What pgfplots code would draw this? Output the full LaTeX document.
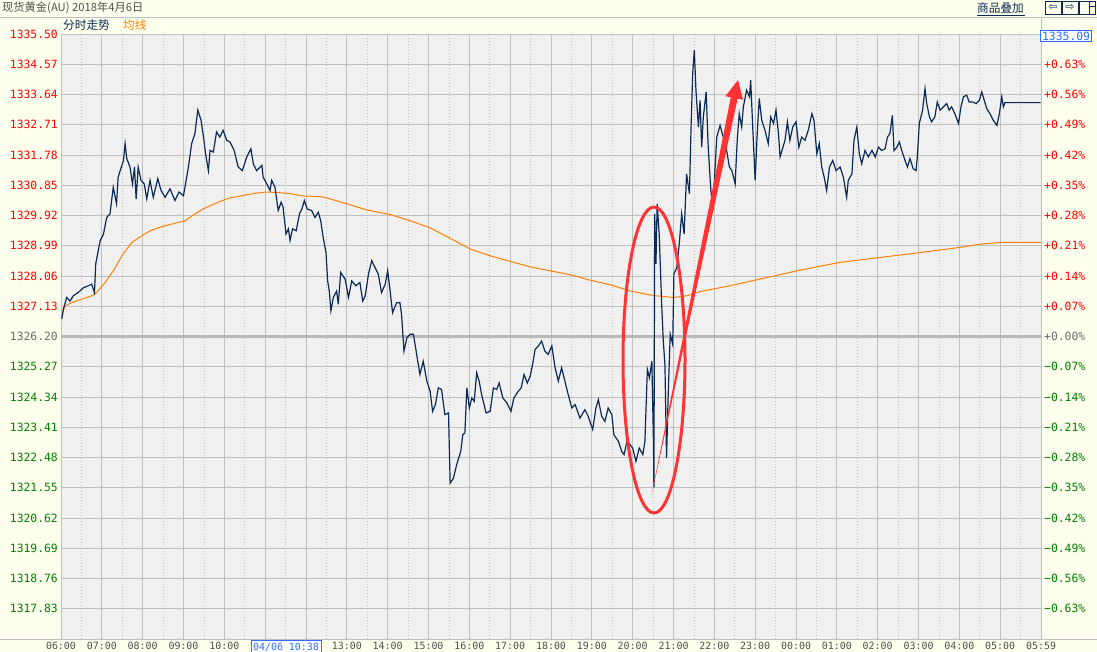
\documentclass[border=0pt]{standalone}
\usepackage{pgfplots}
\pgfplotsset{compat=1.18}
\usepackage{fontspec}
\setmainfont{DejaVu Sans}
\newfontfamily\mono{DejaVu Sans Mono}
\newfontfamily\cjk{Noto Sans CJK SC}
\definecolor{ivory}{HTML}{FFFFEE}
\definecolor{plotbg}{HTML}{F0F0F0}
\definecolor{gridc}{HTML}{C0C0C0}
\definecolor{centerc}{HTML}{B8B8B8}
\definecolor{navy}{HTML}{0B2A55}
\definecolor{avgc}{HTML}{FF8000}
\definecolor{upred}{HTML}{FF0000}
\definecolor{downgreen}{HTML}{008000}
\definecolor{flatgray}{HTML}{6E6E6E}
\definecolor{xlab}{HTML}{505050}
\definecolor{annot}{HTML}{FF3333}
\definecolor{cursorblue}{HTML}{2F6FFF}
\newcommand\R[1]{\textcolor{upred}{#1}}
\newcommand\G[1]{\textcolor{downgreen}{#1}}
\newcommand\F[1]{\textcolor{flatgray}{#1}}
\begin{document}
\begin{tikzpicture}
\clip (0,0) rectangle (1097bp,652bp);
\fill[ivory] (0,0) rectangle (1097bp,652bp);
\draw[gridc, line width=0.8bp] (0,635bp) -- (1097bp,635bp);
\draw[gridc, line width=0.8bp] (0,13bp) -- (1097bp,13bp);
\draw[gridc, line width=0.8bp] (1041bp,13bp) -- (1041bp,635bp);

\begin{axis}[
  at={(61bp,13bp)}, anchor=south west,
  scale only axis, width=980bp, height=605bp,
  xmin=0, xmax=24, ymin=1316.90, ymax=1335.50,
  axis background/.style={fill=plotbg},
  axis line style={draw=gridc, line width=0.8bp},
  tick style={draw=none},
  xtick={0,1,...,24}, minor x tick num=1,
  xticklabels={06:00,07:00,08:00,09:00,10:00,{},{},13:00,14:00,15:00,16:00,17:00,18:00,19:00,20:00,21:00,22:00,23:00,00:00,01:00,02:00,03:00,04:00,05:00,05:59},
  ytick={1316.90,1317.83,1318.76,1319.69,1320.62,1321.55,1322.48,1323.41,1324.34,1325.27,1326.20,1327.13,1328.06,1328.99,1329.92,1330.85,1331.78,1332.71,1333.64,1334.57,1335.50},
  yticklabels={{},\G{1317.83},\G{1318.76},\G{1319.69},\G{1320.62},\G{1321.55},\G{1322.48},\G{1323.41},\G{1324.34},\G{1325.27},\F{1326.20},\R{1327.13},\R{1328.06},\R{1328.99},\R{1329.92},\R{1330.85},\R{1331.78},\R{1332.71},\R{1333.64},\R{1334.57},\R{1335.50}},
  grid=both,
  major grid style={draw=gridc, line width=0.8bp},
  minor grid style={draw=gridc, line width=0.8bp, dash pattern=on 1bp off 2bp},
  extra y ticks={1326.20}, extra y tick labels={},
  extra y tick style={grid=major, major grid style={draw=centerc, line width=2.4bp}},
  xticklabel style={font=\mono\fontsize{10}{12}\selectfont, text=xlab, anchor=north, inner sep=0pt, yshift=-3bp},
  yticklabel style={font=\mono\fontsize{11.4}{12}\selectfont, anchor=east, inner sep=0pt, xshift=-3bp},
]
% average line (均线)
\addplot[avgc, line width=1bp] coordinates {
(0.02,1326.88) (0.10,1327.14) (0.26,1327.24) (0.51,1327.35) (0.75,1327.45) (0.87,1327.55)
(1.08,1327.86) (1.28,1328.22) (1.49,1328.68) (1.73,1329.09) (1.98,1329.30) (2.22,1329.47)
(2.47,1329.58) (2.79,1329.68) (3.04,1329.76) (3.28,1329.97) (3.53,1330.15) (3.85,1330.33)
(4.10,1330.45) (4.43,1330.53) (4.75,1330.60) (5.00,1330.64) (5.28,1330.63) (5.61,1330.59)
(5.93,1330.52) (6.34,1330.50) (6.51,1330.46) (7.00,1330.28) (7.49,1330.09) (8.06,1329.95)
(8.55,1329.76) (9.04,1329.54) (9.53,1329.22) (10.02,1328.89) (10.51,1328.68) (11.00,1328.51)
(11.49,1328.34) (11.98,1328.22) (12.47,1328.10) (12.96,1327.93) (13.45,1327.79) (13.94,1327.60)
(14.50,1327.46) (15.00,1327.40) (15.32,1327.45) (15.65,1327.58) (16.38,1327.76) (18.10,1328.24)
(19.08,1328.48) (20.06,1328.63) (21.04,1328.78) (22.02,1328.94) (22.51,1329.04) (23.00,1329.09)
(23.99,1329.09)
};
% price line (分时走势)
\addplot[navy, line width=1.2bp] coordinates {
(0.02,1326.74) (0.06,1327.05) (0.14,1327.40) (0.22,1327.29) (0.30,1327.45) (0.42,1327.55)
(0.55,1327.70) (0.67,1327.76) (0.75,1327.81) (0.82,1327.55) (0.85,1328.43) (0.96,1329.15)
(1.04,1329.35) (1.12,1329.86) (1.20,1329.97) (1.28,1330.79) (1.36,1330.28) (1.40,1331.10)
(1.45,1331.30) (1.53,1331.61) (1.57,1332.13) (1.61,1331.67) (1.69,1331.41) (1.75,1330.89)
(1.80,1331.41) (1.84,1330.43) (1.89,1331.41) (1.96,1331.00) (2.04,1330.89) (2.10,1330.43)
(2.18,1331.00) (2.26,1330.48) (2.37,1331.05) (2.45,1330.69) (2.55,1330.48) (2.67,1330.74)
(2.79,1330.38) (2.89,1330.64) (3.00,1330.53) (3.05,1330.89) (3.12,1331.41) (3.20,1332.13)
(3.28,1332.44) (3.35,1333.16) (3.43,1332.85) (3.49,1332.33) (3.54,1331.82) (3.61,1331.30)
(3.65,1331.92) (3.73,1331.87) (3.81,1332.49) (3.89,1332.33) (3.97,1332.54) (4.06,1332.23)
(4.14,1332.18) (4.24,1331.92) (4.34,1331.41) (4.44,1331.30) (4.55,1331.72) (4.65,1331.97)
(4.71,1331.51) (4.79,1331.30) (4.92,1331.46) (4.95,1331.10) (5.04,1330.89) (5.12,1330.69)
(5.16,1331.00) (5.24,1330.79) (5.32,1330.07) (5.39,1330.33) (5.44,1330.17) (5.51,1329.35)
(5.57,1329.51) (5.61,1329.15) (5.67,1329.51) (5.76,1329.45) (5.84,1329.97) (5.90,1330.12)
(5.96,1330.38) (6.03,1330.12) (6.14,1330.07) (6.22,1329.86) (6.30,1330.02) (6.36,1329.76)
(6.42,1329.25) (6.49,1328.78) (6.53,1327.91) (6.57,1327.60) (6.61,1326.99) (6.67,1327.40)
(6.75,1327.60) (6.79,1327.19) (6.85,1328.17) (6.96,1327.96) (7.04,1327.40) (7.12,1327.91)
(7.22,1327.76) (7.32,1327.86) (7.39,1327.29) (7.45,1327.45) (7.53,1328.12) (7.61,1328.53)
(7.69,1328.32) (7.77,1328.12) (7.85,1327.55) (7.94,1327.81) (8.00,1328.22) (8.06,1327.60)
(8.12,1326.93) (8.22,1327.24) (8.30,1327.24) (8.34,1326.88) (8.40,1325.75) (8.47,1326.16)
(8.55,1326.27) (8.63,1326.27) (8.71,1325.65) (8.79,1325.03) (8.87,1325.44) (8.96,1324.83)
(9.04,1324.52) (9.10,1323.90) (9.17,1324.11) (9.24,1324.62) (9.32,1324.57) (9.40,1323.80)
(9.49,1323.85) (9.53,1321.69) (9.61,1321.84) (9.69,1322.26) (9.79,1322.67) (9.84,1323.18)
(9.89,1323.23) (9.94,1324.62) (10.00,1324.00) (10.06,1324.31) (10.12,1324.21) (10.18,1325.08)
(10.24,1324.83) (10.30,1324.42) (10.41,1323.85) (10.51,1323.90) (10.59,1324.62) (10.67,1324.57)
(10.73,1324.77) (10.82,1324.31) (10.92,1324.16) (11.02,1323.90) (11.09,1324.31) (11.20,1324.52)
(11.27,1324.62) (11.34,1325.03) (11.42,1324.77) (11.49,1324.98) (11.55,1325.34) (11.61,1325.80)
(11.69,1325.91) (11.77,1326.06) (11.85,1325.75) (11.93,1325.65) (12.02,1325.91) (12.10,1325.24)
(12.18,1324.83) (12.26,1325.24) (12.34,1324.83) (12.42,1324.42) (12.51,1324.00) (12.59,1324.11)
(12.71,1323.69) (12.83,1323.95) (12.91,1323.75) (13.02,1323.34) (13.10,1324.00) (13.16,1324.26)
(13.24,1323.75) (13.32,1323.59) (13.40,1324.00) (13.49,1323.80) (13.54,1323.18) (13.65,1322.98)
(13.73,1322.67) (13.79,1322.57) (13.86,1322.98) (13.94,1322.87) (14.00,1322.77) (14.08,1322.36)
(14.16,1322.77) (14.25,1322.57) (14.30,1322.98) (14.36,1325.19) (14.41,1324.93) (14.47,1325.44)
(14.51,1322.87) (14.52,1321.56) (14.54,1329.97) (14.57,1328.43) (14.60,1330.28) (14.65,1329.35)
(14.71,1327.19) (14.75,1326.06) (14.79,1325.34) (14.83,1322.46) (14.87,1324.42) (14.92,1326.27)
(14.98,1325.96) (15.01,1328.12) (15.08,1328.32) (15.14,1329.04) (15.20,1329.97) (15.26,1329.35)
(15.32,1331.20) (15.39,1330.59) (15.43,1332.64) (15.47,1334.29) (15.51,1335.01) (15.55,1333.77)
(15.61,1332.64) (15.65,1333.46) (15.69,1332.02) (15.73,1332.95) (15.80,1333.72) (15.85,1332.02)
(15.91,1330.79) (15.96,1330.07) (16.02,1331.41) (16.06,1332.33) (16.14,1332.69) (16.24,1332.23)
(16.30,1331.92) (16.37,1331.41) (16.43,1331.30) (16.51,1330.89) (16.56,1332.23) (16.61,1333.05)
(16.67,1332.64) (16.71,1333.26) (16.79,1333.77) (16.86,1333.57) (16.89,1334.08) (16.94,1332.64)
(17.00,1331.00) (17.05,1332.44) (17.10,1333.52) (17.16,1332.85) (17.24,1332.54) (17.32,1332.13)
(17.38,1332.95) (17.45,1332.75) (17.51,1333.16) (17.57,1332.44) (17.61,1331.72) (17.68,1332.02)
(17.73,1332.23) (17.79,1332.80) (17.85,1332.23) (17.92,1332.64) (18.00,1332.80) (18.07,1332.02)
(18.14,1332.33) (18.22,1332.23) (18.30,1332.54) (18.39,1333.05) (18.44,1332.85) (18.51,1331.82)
(18.57,1332.13) (18.63,1331.41) (18.69,1331.10) (18.75,1330.69) (18.82,1331.41) (18.90,1331.61)
(18.98,1331.30) (19.08,1331.41) (19.16,1331.10) (19.24,1330.48) (19.28,1331.00) (19.37,1331.20)
(19.42,1332.23) (19.49,1332.64) (19.55,1331.82) (19.61,1331.51) (19.69,1331.92) (19.77,1331.72)
(19.86,1331.92) (19.94,1331.72) (20.02,1332.02) (20.10,1331.92) (20.18,1331.97) (20.24,1332.33)
(20.30,1332.44) (20.36,1333.00) (20.40,1331.92) (20.47,1332.02) (20.53,1332.18) (20.59,1331.92)
(20.67,1331.61) (20.73,1331.41) (20.79,1331.67) (20.87,1331.36) (20.94,1331.30) (20.97,1331.72)
(21.02,1332.75) (21.10,1333.16) (21.16,1333.82) (21.20,1333.36) (21.27,1332.95) (21.32,1332.80)
(21.40,1332.95) (21.46,1333.41) (21.53,1333.16) (21.61,1333.26) (21.69,1333.36) (21.75,1333.16)
(21.81,1333.26) (21.89,1333.05) (21.98,1332.75) (22.04,1333.26) (22.10,1333.57) (22.18,1333.62)
(22.24,1333.41) (22.33,1333.41) (22.41,1333.36) (22.49,1333.46) (22.55,1333.72) (22.61,1333.46)
(22.67,1333.21) (22.75,1333.05) (22.83,1332.85) (22.92,1332.69) (22.98,1333.05) (23.04,1333.57)
(23.08,1333.26) (23.12,1333.39) (23.99,1333.39)
};
\end{axis}

\begin{axis}[
  at={(61bp,13bp)}, anchor=south west,
  scale only axis, width=980bp, height=605bp,
  xmin=0, xmax=24, ymin=1316.90, ymax=1335.50,
  hide x axis, axis y line*=right,
  axis line style={draw=none}, tick style={draw=none},
  ytick={1317.83,1318.76,1319.69,1320.62,1321.55,1322.48,1323.41,1324.34,1325.27,1326.20,1327.13,1328.06,1328.99,1329.92,1330.85,1331.78,1332.71,1333.64,1334.57},
  yticklabels={\G{−0.63\%},\G{−0.56\%},\G{−0.49\%},\G{−0.42\%},\G{−0.35\%},\G{−0.28\%},\G{−0.21\%},\G{−0.14\%},\G{−0.07\%},\F{+0.00\%},\R{+0.07\%},\R{+0.14\%},\R{+0.21\%},\R{+0.28\%},\R{+0.35\%},\R{+0.42\%},\R{+0.49\%},\R{+0.56\%},\R{+0.63\%}},
  yticklabel style={font=\mono\fontsize{11.4}{12}\selectfont, anchor=west, inner sep=0pt, xshift=3bp},
]
\end{axis}

% header texts
\node[anchor=west, inner sep=0pt, text=xlab, font=\cjk\fontsize{11.3}{12}\selectfont] at (2bp,644bp) {现货黄金(AU) 2018年4月6日};
\node[anchor=west, inner sep=0pt, text=navy, font=\cjk\fontsize{11.7}{12}\selectfont] at (63bp,627bp) {分时走势};
\node[anchor=west, inner sep=0pt, text=avgc, font=\cjk\fontsize{11.7}{12}\selectfont] at (123bp,627bp) {均线};
\node[anchor=west, inner sep=0pt, text=navy, font=\cjk\fontsize{11.7}{12}\selectfont] at (977bp,644bp) {商品叠加};
\draw[navy, line width=0.8bp] (977bp,637bp) -- (1025bp,637bp);
\foreach \x/\s in {1045/⇦,1062/⇨} {
  \draw[navy, line width=0.8bp] (\x bp,638bp) rectangle ++(16bp,13bp);
  \node[text=navy, inner sep=0pt, font=\fontsize{11}{12}\selectfont] at (\x bp+8bp,644.5bp) {\s};
}
\draw[navy, line width=0.8bp] (1079bp,638bp) rectangle ++(16bp,13bp);
\draw[navy, line width=0.8bp] (1089bp,638bp) -- (1089bp,651bp) (1089bp,646bp) -- (1095bp,646bp);

% current price box
\node[draw=cursorblue, fill=white, text=cursorblue, line width=0.9bp, inner sep=1.5bp,
      font=\mono\fontsize{11.4}{12}\selectfont] at (1066bp,616bp) {1335.09};
% cursor time box
\node[draw=cursorblue, fill=white, text=cursorblue, line width=0.9bp, inner xsep=2bp, inner ysep=3bp,
      anchor=north, font=\mono\fontsize{10}{12}\selectfont] at (286bp,12bp) {04/06 10:38};

% red annotations
\draw[annot, line width=3bp] (654bp,292bp) ellipse [x radius=31bp, y radius=153bp];
\fill[annot] (651bp,154bp) -- (730.8bp,554.7bp) -- (725.4bp,555.8bp) -- (738bp,572bp)
  -- (743bp,552.2bp) -- (737.6bp,553.3bp) -- cycle;
\end{tikzpicture}
\end{document}
